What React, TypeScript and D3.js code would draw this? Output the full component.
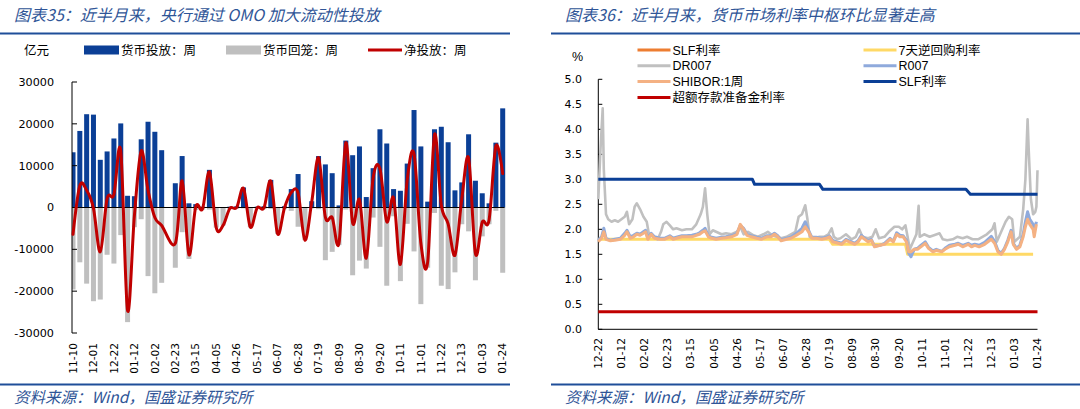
import { useEffect, useRef } from 'react';
import * as d3 from 'd3';

// ---- 图表35: weekly OMO flows (亿元), one value per Friday ----
const omoFirstWeek = '2023-11-10';
const omoLastWeek = '2025-01-24';

const omoInject: (number | null)[] = [
  13200, 18300, 22300, 22200, 11400, 13400, 16500, 20100, 2800, 2700,
  16300, 20500, 18100, 13700, null, 5800, 12300, 1000, 800, 200,
  9000, 0, 0, 200, 300, 4800, 0, 200, 300, 6600,
  0, 300, 4400, 8000, 0, 1500, 12300, 10300, 8200, 500,
  16000, 12500, 14600, 2500, 9400, 18700, 15300, 4400, 4000, 10500,
  23300, 14600, 1400, 18700, 19300, 15600, 4100, 6000, 17500, 6400,
  3400, 1000, 15500, 23700,
];

const omoWithdraw: (number | null)[] = [
  -19600, -13100, -18200, -22400, -22000, -11300, -13400, -6600, -27400, -4700,
  -2800, -16400, -20500, -18000, null, -14400, -5900, -12300, -600, -500,
  -500, -4800, -4300, -400, -300, -200, -4700, -300, -400, -300,
  -6300, -400, -800, -4600, -7800, -200, -400, -12600, -10600, -9000,
  -500, -16200, -12700, -14600, -2400, -9400, -18700, -2100, -17600, -3900,
  -10500, -23100, -14400, -1300, -18700, -19500, -15500, -4000, -5700, -17400,
  -6900, -4000, -800, -15600,
];

const omoNet: (number | null)[] = [
  -6400, 5200, 4100, -200, -10600, 2100, 3100, 13500, -24600, -2000,
  13500, 4100, -2400, -4300, null, -8600, 6400, -11300, 200, -300,
  8500, -4800, -4300, -200, 0, 4600, -4700, -100, -100, 6300,
  -6300, -100, 3600, 3400, -7800, 1300, 11900, -2300, -2400, -8500,
  15500, -3700, 1900, -12100, 7000, 9300, -3400, 2300, -13600, 6600,
  12800, -8500, -13000, 17400, 600, -3900, -11400, 2000, 11800, -11000,
  -3500, -3000, 14700, 8100,
];

const omoTicks = [30000, 20000, 10000, 0, -10000, -20000, -30000];
const omoTickDates = [
  '2023-11-10', '2023-12-01', '2023-12-22', '2024-01-12', '2024-02-02', '2024-02-23',
  '2024-03-15', '2024-04-05', '2024-04-26', '2024-05-17', '2024-06-07', '2024-06-28',
  '2024-07-19', '2024-08-09', '2024-08-30', '2024-09-20', '2024-10-11', '2024-11-01',
  '2024-11-22', '2024-12-13', '2025-01-03', '2025-01-24',
];

// ---- 图表36: money market rates (%) ----
const rateTickDates = [
  '2023-12-22', '2024-01-12', '2024-02-02', '2024-02-23', '2024-03-15', '2024-04-05',
  '2024-04-26', '2024-05-17', '2024-06-07', '2024-06-28', '2024-07-19', '2024-08-09',
  '2024-08-30', '2024-09-20', '2024-10-11', '2024-11-01', '2024-11-22', '2024-12-13',
  '2025-01-03', '2025-01-24',
];
const rateTicks = [0, 0.5, 1, 1.5, 2, 2.5, 3, 3.5, 4, 4.5, 5];

const dr007Dates = [
  '2023-12-22', '2023-12-24', '2023-12-26', '2023-12-27', '2023-12-29', '2023-12-31',
  '2024-01-03', '2024-01-06', '2024-01-09', '2024-01-12', '2024-01-15', '2024-01-17',
  '2024-01-19', '2024-01-22', '2024-01-24', '2024-01-26', '2024-01-29', '2024-02-01',
  '2024-02-04', '2024-02-06', '2024-02-10', '2024-02-14', '2024-02-17', '2024-02-19',
  '2024-02-22', '2024-02-25', '2024-02-28', '2024-03-02', '2024-03-07', '2024-03-11',
  '2024-03-16', '2024-03-20', '2024-03-24', '2024-03-26', '2024-03-28', '2024-03-30',
  '2024-04-01', '2024-04-04', '2024-04-07', '2024-04-12', '2024-04-16', '2024-04-21',
  '2024-04-26', '2024-04-29', '2024-05-02', '2024-05-06', '2024-05-11', '2024-05-15',
  '2024-05-20', '2024-05-24', '2024-05-28', '2024-06-01', '2024-06-05', '2024-06-10',
  '2024-06-14', '2024-06-18', '2024-06-21', '2024-06-24', '2024-06-27', '2024-06-29',
  '2024-07-01', '2024-07-05', '2024-07-10', '2024-07-14', '2024-07-18', '2024-07-21',
  '2024-07-23', '2024-07-26', '2024-07-29', '2024-08-03', '2024-08-08', '2024-08-12',
  '2024-08-15', '2024-08-18', '2024-08-23', '2024-08-27', '2024-08-30', '2024-09-02',
  '2024-09-07', '2024-09-11', '2024-09-16', '2024-09-20', '2024-09-23', '2024-09-26',
  '2024-09-28', '2024-09-30', '2024-10-03', '2024-10-06', '2024-10-08', '2024-10-09',
  '2024-10-13', '2024-10-18', '2024-10-22', '2024-10-27', '2024-10-30', '2024-11-03',
  '2024-11-08', '2024-11-12', '2024-11-17', '2024-11-21', '2024-11-26', '2024-12-01',
  '2024-12-05', '2024-12-09', '2024-12-14', '2024-12-16', '2024-12-18', '2024-12-22',
  '2024-12-26', '2024-12-29', '2025-01-01', '2025-01-03', '2025-01-08', '2025-01-11',
  '2025-01-13', '2025-01-15', '2025-01-16', '2025-01-18', '2025-01-20', '2025-01-22',
  '2025-01-23', '2025-01-24',
];
const dr007 = [
  2.6, 3.6, 4.42, 3.2, 2.3, 2.2,
  2.15, 2.18, 2.15, 2.2, 2.25, 2.35,
  2.1, 2.2, 2.45, 2.52, 2.4, 2.25,
  2.15, 1.9, 1.85, 1.8, 1.95, 2.1,
  2.15, 2.08, 2.0, 2.02, 1.98, 2.0,
  2.0, 2.1, 2.3, 2.45, 2.82, 2.3,
  1.9, 1.98, 1.95, 1.9, 1.92, 1.9,
  1.95, 2.05, 1.9, 1.95, 1.88, 1.85,
  1.9, 1.95, 1.88, 1.85, 1.82, 1.85,
  1.9, 1.95, 2.25, 2.3, 2.48, 2.2,
  1.85, 1.82, 1.85, 1.85, 1.9, 2.02,
  1.85, 1.8, 1.82, 1.9, 1.8, 1.85,
  2.0, 1.85, 1.82, 1.85, 2.0, 1.82,
  1.85, 1.95, 2.05, 2.05, 2.0, 2.08,
  1.85, 1.6, 1.75, 1.9, 2.47, 1.85,
  1.9, 1.85, 1.88, 1.92, 1.8, 1.78,
  1.8, 1.85, 1.82, 1.85, 1.8, 1.8,
  1.85, 1.9, 2.0, 2.12, 1.75, 1.95,
  2.15, 2.25, 2.2, 1.75, 1.85, 2.4,
  3.0, 4.2, 3.6, 2.6, 2.3, 2.35,
  2.45, 3.18,
];

// R007 and SHIBOR 1W are read on the same days
const rateDates = [
  '2023-12-22', '2023-12-25', '2023-12-27', '2023-12-29', '2024-01-02', '2024-01-06',
  '2024-01-11', '2024-01-15', '2024-01-17', '2024-01-20', '2024-01-23', '2024-01-26',
  '2024-01-29', '2024-02-01', '2024-02-03', '2024-02-05', '2024-02-08', '2024-02-11',
  '2024-02-16', '2024-02-20', '2024-02-25', '2024-02-28', '2024-03-02', '2024-03-07',
  '2024-03-11', '2024-03-16', '2024-03-20', '2024-03-23', '2024-03-26', '2024-03-28',
  '2024-03-31', '2024-04-03', '2024-04-07', '2024-04-12', '2024-04-16', '2024-04-21',
  '2024-04-26', '2024-04-29', '2024-05-02', '2024-05-05', '2024-05-09', '2024-05-14',
  '2024-05-18', '2024-05-23', '2024-05-27', '2024-05-30', '2024-06-02', '2024-06-05',
  '2024-06-10', '2024-06-14', '2024-06-19', '2024-06-24', '2024-06-27', '2024-06-30',
  '2024-07-03', '2024-07-07', '2024-07-12', '2024-07-16', '2024-07-19', '2024-07-22',
  '2024-07-27', '2024-07-30', '2024-08-03', '2024-08-06', '2024-08-11', '2024-08-14',
  '2024-08-17', '2024-08-20', '2024-08-23', '2024-08-26', '2024-08-29', '2024-09-03',
  '2024-09-07', '2024-09-12', '2024-09-15', '2024-09-18', '2024-09-21', '2024-09-24',
  '2024-09-27', '2024-09-29', '2024-10-01', '2024-10-04', '2024-10-07', '2024-10-10',
  '2024-10-14', '2024-10-17', '2024-10-21', '2024-10-24', '2024-10-29', '2024-11-01',
  '2024-11-05', '2024-11-10', '2024-11-13', '2024-11-17', '2024-11-22', '2024-11-25',
  '2024-11-28', '2024-12-02', '2024-12-07', '2024-12-10', '2024-12-13', '2024-12-16',
  '2024-12-19', '2024-12-22', '2024-12-25', '2024-12-28', '2024-12-31', '2025-01-02',
  '2025-01-05', '2025-01-08', '2025-01-11', '2025-01-13', '2025-01-15', '2025-01-17',
  '2025-01-20', '2025-01-21', '2025-01-23',
];
const r007 = [
  1.78, 1.85, 2.02, 1.82, 1.78, 1.8,
  1.82, 1.92, 1.98, 1.85, 1.88, 1.92,
  1.9, 1.95, 1.98, 1.82, 1.92, 1.85,
  1.82, 1.82, 1.87, 1.82, 1.84, 1.87,
  1.87, 1.88, 1.9, 1.93, 1.98, 2.02,
  1.87, 1.84, 1.82, 1.84, 1.85, 1.87,
  1.92, 2.08, 2.02, 1.9, 1.87, 1.84,
  1.82, 1.87, 1.87, 1.92, 1.87, 1.79,
  1.82, 1.84, 1.92, 2.02, 2.15, 1.98,
  1.84, 1.84, 1.82, 1.84, 1.87, 1.78,
  1.74, 1.72, 1.8, 1.77, 1.72, 1.77,
  1.88, 1.82, 1.77, 1.8, 1.66, 1.68,
  1.72, 1.82, 1.76, 1.93, 1.88, 1.87,
  1.78, 1.52, 1.45, 1.6, 1.62, 1.68,
  1.75, 1.64, 1.57, 1.6, 1.56, 1.62,
  1.68, 1.7, 1.72, 1.68, 1.72, 1.68,
  1.7, 1.68, 1.74, 1.8, 1.86, 1.76,
  1.58, 1.52, 1.62, 1.78, 1.98, 1.72,
  1.62, 1.68, 1.9, 2.15, 2.35, 2.2,
  2.1, 1.95, 2.15,
];
const shibor1w = [
  1.75, 1.82, 1.95, 1.8, 1.77, 1.78,
  1.8, 1.88, 1.95, 1.82, 1.85, 1.9,
  1.88, 1.92, 1.95, 1.8, 1.9, 1.82,
  1.8, 1.8, 1.85, 1.8, 1.82, 1.85,
  1.85, 1.85, 1.88, 1.9, 1.95, 1.97,
  1.85, 1.82, 1.8, 1.82, 1.83, 1.85,
  1.9, 2.1, 2.0, 1.88, 1.85, 1.82,
  1.8, 1.85, 1.85, 1.9, 1.85, 1.77,
  1.8, 1.82, 1.88, 1.95, 2.05, 1.95,
  1.82, 1.82, 1.8, 1.82, 1.85, 1.75,
  1.72, 1.7, 1.78, 1.75, 1.7, 1.75,
  1.85, 1.8, 1.75, 1.78, 1.65, 1.68,
  1.7, 1.8, 1.75, 1.9, 1.85, 1.85,
  1.75, 1.55, 1.55, 1.6, 1.6, 1.65,
  1.72, 1.62, 1.55, 1.58, 1.55, 1.6,
  1.65, 1.68, 1.7, 1.65, 1.7, 1.65,
  1.68, 1.65, 1.7, 1.75, 1.8, 1.72,
  1.55, 1.5, 1.6, 1.75, 1.95, 1.7,
  1.6, 1.65, 1.85, 2.05, 2.2, 2.1,
  2.0, 1.85, 2.1,
];

const revRepoDates = ['2023-12-22', '2024-07-19', '2024-07-22', '2024-09-26', '2024-09-28', '2025-01-20'];
const revRepo7d = [1.8, 1.8, 1.7, 1.7, 1.5, 1.5];

const slfDates = ['2023-12-22', '2024-05-10', '2024-05-12', '2024-07-10', '2024-07-13', '2024-11-20', '2024-11-24', '2025-01-24'];
const slfRate = [3.0, 3.0, 2.9, 2.9, 2.8, 2.8, 2.7, 2.7];

const excessDates = ['2023-12-22', '2025-01-24'];
const excessReserve = [0.35, 0.35];

const BLUE = '#0B3F96';
const GREY = '#BFBFBF';
const RED = '#C00000';
const HEAD = '#2F5597';
const cjk = '"Noto Sans CJK SC", sans-serif';
const digits = '"DejaVu Sans", sans-serif';
const latin = '"Liberation Sans", Arial, sans-serif';

const parse = d3.timeParse('%Y-%m-%d');
const toDate = (s: string) => parse(s) as Date;

type Sel = d3.Selection<SVGGElement, unknown, null, undefined>;

// title, top and bottom rules and source line shared by both panels
function frame(g: Sel, x0: number, x1: number, title: string) {
  g.append('text')
    .attr('x', x0 + 14).attr('y', 21)
    .attr('font-family', cjk).attr('font-size', 16).attr('font-style', 'italic')
    .attr('fill', HEAD).text(title);
  g.append('rect').attr('x', x0).attr('y', 32.5).attr('width', x1 - x0).attr('height', 2).attr('fill', '#1F4E99');
  g.append('rect').attr('x', x0).attr('y', 383.5).attr('width', x1 - x0).attr('height', 2).attr('fill', '#1F4E99');
  g.append('text')
    .attr('x', x0 + 14).attr('y', 403)
    .attr('font-family', cjk).attr('font-size', 15.5).attr('font-style', 'italic')
    .attr('fill', HEAD).text('资料来源：Wind，国盛证券研究所');
}

function drawOmo(svg: d3.Selection<SVGSVGElement, unknown, null, undefined>) {
  const g = svg.append('g') as unknown as Sel;
  frame(g, 0, 510, '图表35：近半月来，央行通过 OMO 加大流动性投放');

  const weeks = d3.timeFriday.range(toDate(omoFirstWeek), d3.timeDay.offset(toDate(omoLastWeek), 1));
  const x = d3.scaleTime().domain([toDate(omoFirstWeek), toDate(omoLastWeek)]).range([73, 502.7]);
  const y = d3.scaleLinear().domain([-30000, 30000]).range([333, 82]);
  const axisX = 72;
  const barW = 5;

  // legend
  const leg = g.append('g').attr('font-family', cjk).attr('font-size', 12.5).attr('fill', '#000');
  leg.append('text').attr('x', 24).attr('y', 54.5).text('亿元');
  leg.append('rect').attr('x', 84).attr('y', 45.5).attr('width', 35).attr('height', 9).attr('fill', BLUE);
  leg.append('text').attr('x', 121).attr('y', 54.5).text('货币投放：周');
  leg.append('rect').attr('x', 226).attr('y', 45.5).attr('width', 35).attr('height', 9).attr('fill', GREY);
  leg.append('text').attr('x', 263).attr('y', 54.5).text('货币回笼：周');
  leg.append('line').attr('x1', 368).attr('x2', 402).attr('y1', 50).attr('y2', 50)
    .attr('stroke', RED).attr('stroke-width', 3);
  leg.append('text').attr('x', 404).attr('y', 54.5).text('净投放：周');

  g.append('clipPath').attr('id', 'omo-clip')
    .append('rect').attr('x', axisX).attr('y', 60).attr('width', 450).attr('height', 300);
  const plot = g.append('g').attr('clip-path', 'url(#omo-clip)');

  const bars = weeks.map((d, i) => ({ d, inj: omoInject[i], wd: omoWithdraw[i] }));
  plot.selectAll('rect.wd').data(bars.filter(b => b.wd != null)).enter().append('rect')
    .attr('class', 'wd')
    .attr('x', b => x(b.d) - barW / 2).attr('width', barW)
    .attr('y', y(0)).attr('height', b => y(b.wd as number) - y(0))
    .attr('fill', GREY);
  plot.selectAll('rect.inj').data(bars.filter(b => b.inj != null)).enter().append('rect')
    .attr('class', 'inj')
    .attr('x', b => x(b.d) - barW / 2).attr('width', barW)
    .attr('y', b => y(b.inj as number)).attr('height', b => y(0) - y(b.inj as number))
    .attr('fill', BLUE);

  // zero line and y axis
  g.append('line').attr('x1', axisX).attr('x2', 504.5).attr('y1', y(0)).attr('y2', y(0))
    .attr('stroke', '#000').attr('stroke-width', 1);
  g.append('line').attr('x1', axisX).attr('x2', axisX).attr('y1', y(30000)).attr('y2', y(-30000))
    .attr('stroke', '#000').attr('stroke-width', 1);
  omoTicks.forEach(t => {
    g.append('line').attr('x1', axisX).attr('x2', axisX + 5).attr('y1', y(t)).attr('y2', y(t))
      .attr('stroke', '#000').attr('stroke-width', 1);
    g.append('text').attr('x', 54).attr('y', y(t)).attr('dy', '0.35em')
      .attr('text-anchor', 'end').attr('font-family', digits).attr('font-size', 11.2)
      .attr('fill', '#000').text(String(t));
  });

  // week labels every third Friday
  omoTickDates.forEach(s => {
    const d = toDate(s);
    g.append('text')
      .attr('transform', `translate(${x(d)},343) rotate(-90)`)
      .attr('text-anchor', 'end').attr('dy', '0.35em')
      .attr('font-family', digits).attr('font-size', 10.6).attr('fill', '#000')
      .text(d3.timeFormat('%m-%d')(d));
  });

  // net injection, smoothed, bridging the holiday week
  const net = weeks.map((d, i) => ({ d, v: omoNet[i] })).filter(p => p.v != null);
  const line = d3.line<{ d: Date; v: number | null }>()
    .x(p => x(p.d)).y(p => y(p.v as number))
    .curve(d3.curveCardinal.tension(0));
  g.append('path').datum(net).attr('d', line)
    .attr('fill', 'none').attr('stroke', RED).attr('stroke-width', 3)
    .attr('stroke-linejoin', 'round').attr('stroke-linecap', 'round');
}

function drawRates(svg: d3.Selection<SVGSVGElement, unknown, null, undefined>) {
  const g = svg.append('g') as unknown as Sel;
  frame(g, 551, 1080, '图表36：近半月来，货币市场利率中枢环比显著走高');

  const x = d3.scaleTime().domain([toDate('2023-12-22'), toDate('2025-01-24')]).range([598.3, 1037.5]);
  const y = d3.scaleLinear().domain([0, 5]).range([329.3, 79.3]);

  const series = [
    { name: 'SLF利率', color: '#ED7D31', dates: [] as string[], values: [] as number[], w: 3 },
    { name: '7天逆回购利率', color: '#FFD966', dates: revRepoDates, values: revRepo7d, w: 3 },
    { name: 'DR007', color: '#C0C0C0', dates: dr007Dates, values: dr007, w: 2.6 },
    { name: 'R007', color: '#8FAADC', dates: rateDates, values: r007, w: 3 },
    { name: 'SHIBOR:1周', color: '#F4B183', dates: rateDates, values: shibor1w, w: 3 },
    { name: 'SLF利率', color: '#0B3F96', dates: slfDates, values: slfRate, w: 3 },
    { name: '超额存款准备金利率', color: RED, dates: excessDates, values: excessReserve, w: 3 },
  ];

  // "%" unit and two-column legend
  g.append('text').attr('x', 572).attr('y', 60.5).attr('font-family', latin).attr('font-size', 12.5)
    .attr('fill', '#000').text('%');
  series.forEach((s, i) => {
    const col = i % 2;
    const row = Math.floor(i / 2);
    const lx = col === 0 ? 637.5 : 863.5;
    const ly = 50 + row * 15.8;
    g.append('line').attr('x1', lx).attr('x2', lx + 33).attr('y1', ly).attr('y2', ly)
      .attr('stroke', s.color).attr('stroke-width', 3);
    g.append('text').attr('x', lx + 35).attr('y', ly).attr('dy', '0.36em')
      .attr('font-family', `"Liberation Sans", ${cjk}`).attr('font-size', 12.5).attr('fill', '#000')
      .text(s.name);
  });

  // axes
  g.append('line').attr('x1', x.range()[0]).attr('x2', x.range()[0]).attr('y1', y(5)).attr('y2', y(0))
    .attr('stroke', '#000').attr('stroke-width', 1);
  g.append('line').attr('x1', x.range()[0]).attr('x2', x.range()[1]).attr('y1', y(0)).attr('y2', y(0))
    .attr('stroke', '#000').attr('stroke-width', 1);
  rateTicks.forEach(t => {
    g.append('line').attr('x1', x.range()[0]).attr('x2', x.range()[0] + 4).attr('y1', y(t)).attr('y2', y(t))
      .attr('stroke', '#000').attr('stroke-width', 1);
    g.append('text').attr('x', 582).attr('y', y(t)).attr('dy', '0.36em')
      .attr('text-anchor', 'end').attr('font-family', digits).attr('font-size', 11)
      .attr('fill', '#000').text(t.toFixed(1));
  });
  rateTickDates.forEach(s => {
    const d = toDate(s);
    g.append('text')
      .attr('transform', `translate(${x(d)},338) rotate(-90)`)
      .attr('text-anchor', 'end').attr('dy', '0.35em')
      .attr('font-family', digits).attr('font-size', 10.6).attr('fill', '#000')
      .text(d3.timeFormat('%m-%d')(d));
  });

  const line = d3.line<[Date, number]>().x(p => x(p[0])).y(p => y(p[1]));
  series.forEach(s => {
    if (!s.dates.length) return;
    const pts = s.dates.map((d, i) => [toDate(d), s.values[i]] as [Date, number]);
    g.append('path').datum(pts).attr('d', line)
      .attr('fill', 'none').attr('stroke', s.color).attr('stroke-width', s.w)
      .attr('stroke-linejoin', 'round');
  });
}

export default function App() {
  const svgRef = useRef<SVGSVGElement>(null);

  useEffect(() => {
    if (!svgRef.current) return;
    const svg = d3.select(svgRef.current);
    svg.selectAll('*').remove();
    drawOmo(svg);
    drawRates(svg);
  }, []);

  return (
    <svg
      ref={svgRef}
      width={1080}
      height={409}
      style={{ position: 'absolute', left: 0, top: 0, background: '#fff' }}
    />
  );
}
